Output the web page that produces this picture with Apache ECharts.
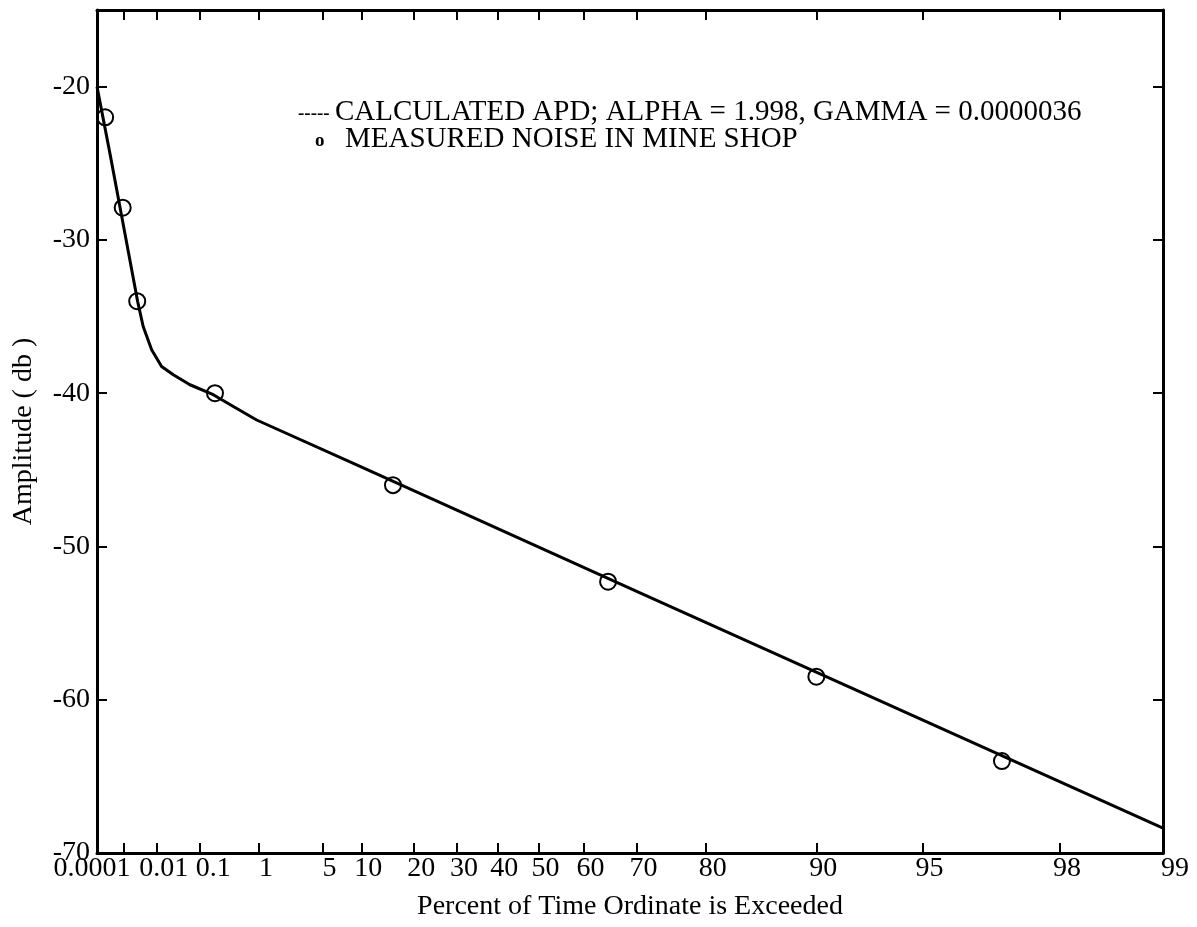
<!DOCTYPE html>
<html><head><meta charset="utf-8">
<script src="https://cdn.jsdelivr.net/npm/echarts@6/dist/echarts.min.js"></script>
<style>html,body{margin:0;padding:0;background:#fff}#chart{width:1197px;height:927px}</style>
</head><body><div id="chart"></div>
<script>
// ---- data (percent of time exceeded, amplitude in dB) ----
const xTickPercents = [0.0001, 0.001, 0.01, 0.1, 1, 5, 10, 20, 30, 40, 50, 60, 70, 80, 90, 95, 98, 99];
const xLabelPercents = [0.0001, 0.01, 0.1, 1, 5, 10, 20, 30, 40, 50, 60, 70, 80, 90, 95, 98, 99];
const yTicks = [-70, -60, -50, -40, -30, -20];
const curvePercent = [0.0001, 0.00032, 0.00086, 0.00278, 0.0041, 0.0072, 0.0134, 0.0265, 0.0638, 0.187, 0.45, 0.927, 9.8, 70.6, 99];
const curveDb = [-20.0, -24.37, -28.55, -34.01, -35.65, -37.17, -38.26, -38.80, -39.45, -40.10, -40.95, -41.75, -44.78, -53.03, -68.37];
const measuredPercent = [0.00021, 0.00091, 0.0027, 0.201, 15.6, 64.9, 90.0, 97.05];
const measuredDb = [-22.0, -27.9, -34.0, -40.0, -46.0, -52.3, -58.5, -64.0];
const legendLine = 'CALCULATED APD; ALPHA = 1.998, GAMMA = 0.0000036';
const legendPoints = 'MEASURED NOISE IN MINE SHOP';

// probability (Rayleigh) paper scale: t = -log10(-ln(p/100))
const T = p => -Math.log10(-Math.log(p / 100));
const FONT = '"Liberation Serif", "Times New Roman", serif';

const labelShift = {0.0001: [0, 10, 0, 0], 0.1: [0, 0, 0, 28], 99: [0, 0, 0, 24]};
function labelFor(v) {
  let best = xLabelPercents[0], d = Infinity;
  xLabelPercents.forEach(p => { const dd = Math.abs(T(p) - v); if (dd < d) { d = dd; best = p; } });
  return best;
}

const chart = echarts.init(document.getElementById('chart'));
const axisLine = {show: true, onZero: false, lineStyle: {color: '#000', width: 3}};
const tickStyle = {show: true, inside: true, length: 10, lineStyle: {color: '#000', width: 2}};
const xmin = T(xTickPercents[0]), xmax = T(xTickPercents[xTickPercents.length - 1]);

chart.setOption({
  animation: false,
  backgroundColor: '#fff',
  grid: {left: 97, right: 34, top: 10, bottom: 74, containLabel: false},
  xAxis: [{
    type: 'value', position: 'bottom', min: xmin, max: xmax,
    axisLine, splitLine: {show: false},
    axisTick: Object.assign({customValues: xTickPercents.map(T)}, tickStyle),
    axisLabel: {
      customValues: xLabelPercents.map(T), margin: 2, color: '#000',
      fontFamily: FONT, fontSize: 28,
      formatter: v => {
        const p = labelFor(v);
        const key = labelShift[p] ? 's' + String(p).replace('.', '_') : 'n';
        return '{' + key + '|' + String(p) + '}';
      },
      rich: {
        n: {fontFamily: FONT, fontSize: 28, color: '#000', padding: [0, 0, 0, 14]},
        s0_0001: {fontFamily: FONT, fontSize: 28, color: '#000', padding: [0, 10, 0, 0]},
        s0_1: {fontFamily: FONT, fontSize: 28, color: '#000', padding: [0, 0, 0, 28]},
        s99: {fontFamily: FONT, fontSize: 28, color: '#000', padding: [0, 0, 0, 24]}
      }
    },
    name: 'Percent of Time Ordinate is Exceeded', nameLocation: 'middle', nameGap: 40,
    nameTextStyle: {fontFamily: FONT, fontSize: 28, color: '#000'}
  }, {
    type: 'value', position: 'top', min: xmin, max: xmax,
    axisLine, splitLine: {show: false},
    axisTick: Object.assign({customValues: xTickPercents.map(T)}, tickStyle),
    axisLabel: {show: false}
  }],
  yAxis: [{
    type: 'value', position: 'left', min: -70, max: -15,
    axisLine, splitLine: {show: false},
    axisTick: Object.assign({customValues: yTicks}, tickStyle),
    axisLabel: {customValues: yTicks, margin: 7, color: '#000', fontFamily: FONT, fontSize: 28},
    name: 'Amplitude ( db )', nameLocation: 'middle', nameGap: 59,
    nameTextStyle: {fontFamily: FONT, fontSize: 28, color: '#000'}
  }, {
    type: 'value', position: 'right', min: -70, max: -15,
    axisLine, splitLine: {show: false},
    axisTick: Object.assign({customValues: yTicks}, tickStyle),
    axisLabel: {show: false}
  }],
  series: [{
    name: 'CALCULATED APD', type: 'line', xAxisIndex: 0, yAxisIndex: 0,
    data: curvePercent.map((p, i) => [T(p), curveDb[i]]),
    symbol: 'none', smooth: false,
    lineStyle: {color: '#000', width: 3, join: 'round'}
  }, {
    name: 'MEASURED NOISE IN MINE SHOP', type: 'scatter', xAxisIndex: 0, yAxisIndex: 0,
    data: measuredPercent.map((p, i) => [T(p), measuredDb[i]]),
    symbol: 'circle', symbolSize: 16,
    itemStyle: {color: 'rgba(0,0,0,0)', borderColor: '#000', borderWidth: 2, opacity: 1}
  }],
  graphic: [
    {type: 'text', x: 298, y: 114, style: {text: '-----', font: 'bold 19px ' + FONT, fill: '#000', verticalAlign: 'middle'}},
    {type: 'text', x: 335, y: 112, style: {text: legendLine, font: '29px ' + FONT, fill: '#000', verticalAlign: 'middle'}},
    {type: 'text', x: 315, y: 141, style: {text: 'o', font: 'bold 19px ' + FONT, fill: '#000', verticalAlign: 'middle'}},
    {type: 'text', x: 345, y: 139, style: {text: legendPoints, font: '29px ' + FONT, fill: '#000', verticalAlign: 'middle'}}
  ]
});
</script>
</body></html>
